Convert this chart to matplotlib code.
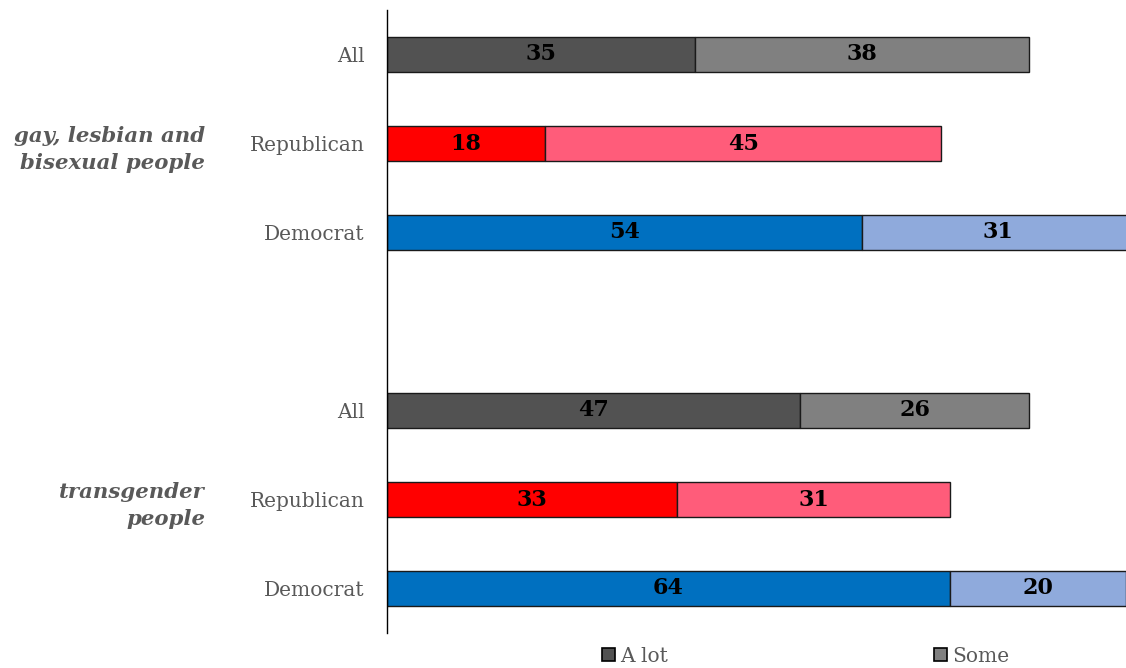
import matplotlib
matplotlib.use("Agg")
import matplotlib.pyplot as plt
from matplotlib.patches import Patch

categories = ["All", "Republican", "Democrat", "", "All", "Republican", "Democrat"]
a_lot = [35, 18, 54, None, 47, 33, 64]
some = [38, 45, 31, None, 26, 31, 20]
groups = ["gay, lesbian and\nbisexual people", "transgender\npeople"]
group_pos = [1, 5]
legend_labels = ["A lot", "Some"]

dark_cols = ["#525252", "#FF0000", "#0070C0"]
light_cols = ["#808080", "#FF5C7A", "#8FAADC"]

plt.rcParams['font.family'] = ['DejaVu Serif']
fig = plt.figure(figsize=(11.26, 6.68), dpi=100)
ax = fig.add_axes([387/1126, 1-633/668, 1-387/1126, (633-10)/668])

for i, (a, s) in enumerate(zip(a_lot, some)):
    if a is None:
        continue
    k = i % 4
    ax.barh(i, a, height=0.4, color=dark_cols[k], edgecolor="#1a1a1a", linewidth=1.0)
    ax.barh(i, s, left=a, height=0.4, color=light_cols[k], edgecolor="#1a1a1a", linewidth=1.0)
    ax.text(a/2, i, str(a), ha="center", va="center", fontsize=16, fontweight="bold", color="black")
    ax.text(a + s/2, i, str(s), ha="center", va="center", fontsize=16, fontweight="bold", color="black")

ax.set_xlim(0, 84)
ax.set_ylim(6.5, -0.5)
ax.set_yticks(range(len(categories)))
ax.set_yticklabels(categories, fontsize=14.5, color="#595959")
ax.tick_params(axis="y", length=0, pad=16)
ax.set_xticks([])
for sp in ["top", "right", "bottom"]:
    ax.spines[sp].set_visible(False)
ax.spines["left"].set_color("black")
ax.spines["left"].set_linewidth(1.0)

for g, p in zip(groups, group_pos):
    y = ax.transData.transform((0, p))[1]
    fig.text(205/1126, y/668 - 0.009, g, ha="right", va="center", fontsize=15.3,
             fontweight="bold", fontstyle="italic", color="#595959", linespacing=1.4)

handles = [Patch(facecolor="#525252", edgecolor="black", linewidth=1.2),
           Patch(facecolor="#808080", edgecolor="black", linewidth=1.2)]
fig.legend(handles, legend_labels, loc="center left", bbox_to_anchor=(602/1126, 1-656/668),
           ncol=2, frameon=False, fontsize=14.5, labelcolor="#595959",
           handlelength=0.65, handleheight=0.65, handletextpad=0.25, columnspacing=13.2,
           borderpad=0, borderaxespad=0)

fig.savefig("out.png", dpi=100)
